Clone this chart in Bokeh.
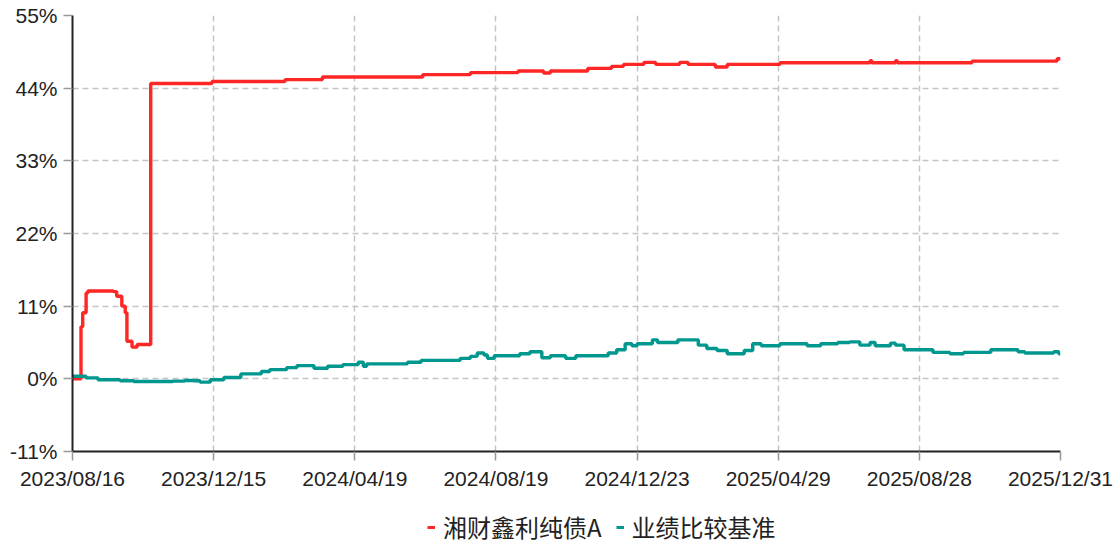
from bokeh.plotting import figure
from bokeh.models import Range1d, FixedTicker, Legend, LegendItem
from bokeh.layouts import column
from bokeh.embed import file_html
from bokeh.resources import INLINE

# trading-day index (0 = 2023/08/16, 581 = 2025/12/31) and cumulative return (%)
fund_idx = [0, 5, 6, 8, 9, 24, 26, 29, 31, 32, 35, 38, 46, 82, 125, 147, 206, 234,
            262, 277, 281, 303, 317, 324, 336, 343, 357, 362, 378, 385, 416, 469,
            470, 484, 485, 529, 579, 581]
fund_val = [0.0, 7.9, 10.0, 13.0, 13.3, 13.2, 12.5, 11.0, 10.0, 5.7, 4.8, 5.2, 44.7,
            45.0, 45.3, 45.7, 46.05, 46.35, 46.6, 46.3, 46.6, 47.0, 47.3, 47.6, 47.9,
            47.6, 47.9, 47.6, 47.2, 47.6, 47.85, 48.15, 47.85, 48.15, 47.85, 48.1,
            48.45, 48.45]

bench_idx = [0, 8, 15, 28, 36, 59, 66, 71, 75, 81, 89, 99, 111, 116, 126, 132, 142,
             150, 159, 168, 171, 173, 197, 205, 228, 234, 238, 242, 244, 248, 263,
             269, 276, 281, 290, 296, 315, 320, 325, 329, 332, 341, 344, 356, 368,
             373, 379, 385, 395, 400, 405, 416, 432, 440, 450, 457, 463, 469, 472,
             481, 484, 489, 506, 516, 524, 540, 556, 560, 577, 580, 581]
bench_val = [0.4, 0.15, -0.15, -0.3, -0.4, -0.35, -0.25, -0.3, -0.5, -0.15, 0.2, 0.75,
             1.1, 1.4, 1.7, 2.0, 1.6, 1.9, 2.15, 2.5, 1.9, 2.27, 2.5, 2.8, 3.1, 3.4,
             3.9, 3.6, 3.1, 3.5, 3.8, 4.1, 3.2, 3.5, 3.1, 3.5, 3.9, 4.4, 5.3, 5.0, 5.3,
             5.9, 5.5, 5.9, 5.1, 4.6, 4.3, 3.8, 4.3, 5.3, 5.0, 5.3, 5.0, 5.3, 5.5, 5.6,
             5.1, 5.5, 5.0, 5.4, 5.1, 4.4, 4.0, 3.8, 4.0, 4.4, 4.1, 3.9, 4.1, 3.8, 3.8]

x_ticks = [0, 83, 166, 249, 332, 415, 498, 581]
x_labels = ["2023/08/16", "2023/12/15", "2024/04/19", "2024/08/19",
            "2024/12/23", "2025/04/29", "2025/08/28", "2025/12/31"]
y_ticks = [-11, 0, 11, 22, 33, 44, 55]
y_labels = ["-11%", "0%", "11%", "22%", "33%", "44%", "55%"]

fund_name = "湘财鑫利纯债A"
bench_name = "业绩比较基准"

RED = "#ff2626"
TEAL = "#00978f"

p = figure(width=1116, height=492, output_backend="svg", toolbar_location=None,
           x_range=Range1d(0, 581), y_range=Range1d(-11, 55),
           min_border_left=72, min_border_right=56, min_border_top=15,
           min_border_bottom=40)
p.outline_line_color = None
p.background_fill_color = "white"

p.step(fund_idx, fund_val, mode="after", line_color=RED, line_width=3.4)
p.step(bench_idx, bench_val, mode="after", line_color=TEAL, line_width=3.4)

for ax in (p.xaxis[0], p.yaxis[0]):
    ax.axis_line_color = "#222222"
    ax.axis_line_width = 2
    ax.major_tick_line_color = "#999999"
    ax.major_tick_line_width = 1.5
    ax.major_tick_in = 0
    ax.major_tick_out = 9
    ax.minor_tick_line_color = None
    ax.major_label_text_font = "Liberation Sans"
    ax.major_label_text_font_size = "21px"
    ax.major_label_text_color = "#222222"
    ax.major_label_standoff = 6

p.xaxis[0].ticker = FixedTicker(ticks=x_ticks)
p.xaxis[0].major_label_overrides = dict(zip(x_ticks, x_labels))
p.yaxis[0].ticker = FixedTicker(ticks=y_ticks)
p.yaxis[0].major_label_overrides = dict(zip(y_ticks, y_labels))

for g in (p.xgrid[0], p.ygrid[0]):
    g.grid_line_color = "#c4c4c4"
    g.grid_line_width = 1.5
    g.grid_line_dash = "6 4"

# legend strip below the chart (series drawn off-view, only their legend glyphs show)
lg = figure(width=1116, height=54, output_backend="svg", toolbar_location=None,
            x_range=Range1d(0, 581), y_range=Range1d(1000, 1001),
            x_axis_location=None, y_axis_location=None,
            min_border_left=0, min_border_right=0, min_border_top=0,
            min_border_bottom=0)
lg.outline_line_color = None
lg.xgrid.visible = False
lg.ygrid.visible = False
l1 = lg.step(fund_idx, fund_val, mode="after", line_color=RED, line_width=3)
l2 = lg.step(bench_idx, bench_val, mode="after", line_color=TEAL, line_width=3)

legend = Legend(items=[LegendItem(label=fund_name, renderers=[l1]),
                       LegendItem(label=bench_name, renderers=[l2])],
                location=(355, 2), orientation="horizontal",
                label_text_font="Noto Sans CJK SC", label_text_font_size="24px",
                label_text_color="#222222", glyph_width=8, glyph_height=20,
                label_standoff=8, spacing=14, padding=0, margin=0,
                border_line_color=None, background_fill_alpha=0)
lg.add_layout(legend, "center")

open("out.html", "w").write(file_html(column(p, lg, spacing=0), INLINE))
